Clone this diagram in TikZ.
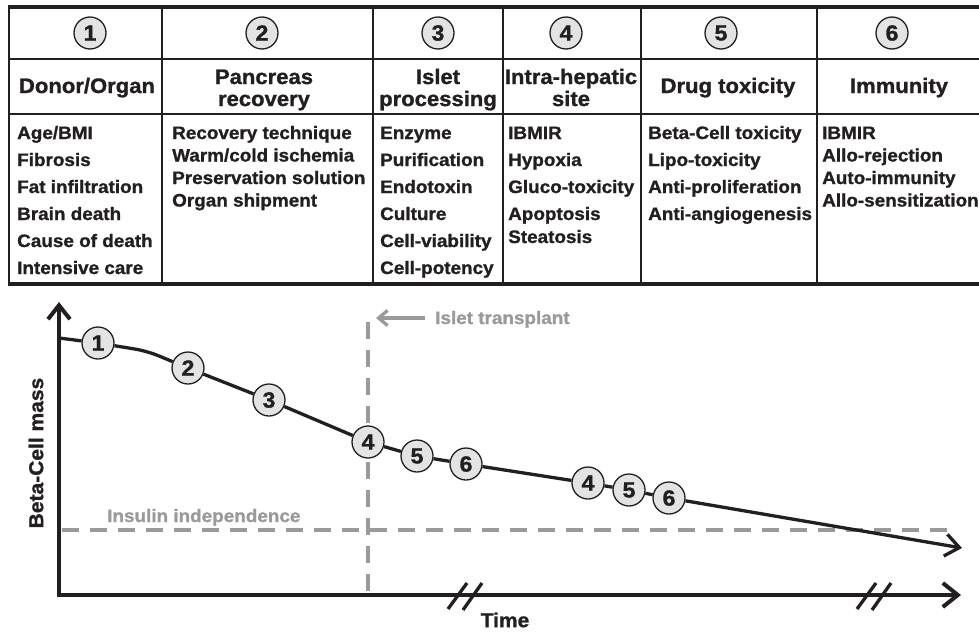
\documentclass[tikz,border=0pt]{standalone}
\usepackage{fontspec}
\setmainfont{Liberation Sans}[FakeStretch=1.05, BoldFeatures={FakeBold=1.2}]
\usetikzlibrary{arrows.meta}
\definecolor{ink}{HTML}{231F20}
\definecolor{lgray}{HTML}{9A9A9C}
\definecolor{cfill}{HTML}{E3E3E3}
\tikzset{
  body/.style={anchor=base west, inner sep=0pt, font=\fontsize{18}{20}\selectfont\bfseries, text=ink},
  head/.style={anchor=base, inner sep=0pt, font=\fontsize{21}{23}\selectfont\bfseries, text=ink},
  num/.style={circle, draw=ink, line width=1.3pt, fill=cfill, minimum size=32pt, inner sep=0pt, font=\fontsize{22}{22}\selectfont\bfseries, text=ink},
  outerrule/.style={line width=4pt, draw=ink},
  innerrule/.style={line width=2pt, draw=ink},
  axisline/.style={line width=4pt, draw=ink, line join=miter},
  dashgray/.style={line width=4pt, draw=lgray, dash pattern=on 17pt off 11pt},
  curveline/.style={line width=3.3pt, draw=ink},
  graylabel/.style={anchor=base west, inner sep=0pt, font=\fontsize{18}{20}\selectfont\bfseries, text=lgray},
  axislabel/.style={inner sep=0pt, font=\fontsize{20}{22}\selectfont\bfseries, text=ink},
  breakline/.style={line width=3.3pt, draw=ink},
}
\begin{document}
\begin{tikzpicture}[x=1pt,y=-1pt]
\useasboundingbox (0,0) rectangle (979,632);
% ---------------- table ----------------
\draw[outerrule] (9,7) -- (979,7);
\draw[outerrule] (9,284) -- (979,284);
\draw[innerrule] (9,59) -- (979,59);
\draw[innerrule] (9,114) -- (979,114);
\draw[line width=2.6pt, draw=ink] (9,5) -- (9,286);
\foreach \x in {162,373,503,641,817} \draw[innerrule] (\x,7) -- (\x,284);
% header circles
\node[num] (n1) at (90,33) {1};
\node[num] (n2) at (262,33) {2};
\node[num] (n3) at (438,33) {3};
\node[num] (n4) at (566,33) {4};
\node[num] (n5) at (721,33) {5};
\node[num] (n6) at (892,33) {6};
% headers
\node[head] (h1) at (87,93) {Donor/Organ};
\node[head] (h2a) at (264,84) {Pancreas};
\node[head] (h2b) at (264,106) {recovery};
\node[head] (h3a) at (438,84) {Islet};
\node[head] (h3b) at (438,106) {processing};
\node[head] (h4a) at (571,84) {Intra-hepatic};
\node[head] (h4b) at (571,106) {site};
\node[head] (h5) at (728,93) {Drug toxicity};
\node[head] (h6) at (899,93) {Immunity};
% body
\foreach \t [count=\i] in {Age/BMI,Fibrosis,Fat infiltration,Brain death,Cause of death,Intensive care}
  \node[body] (ca\i) at (17,{139+27*(\i-1)}) {\t};
\foreach \t [count=\i] in {Recovery technique,Warm/cold ischemia,Preservation solution,Organ shipment}
  \node[body] (cb\i) at (172,{139+22.5*(\i-1)}) {\t};
\foreach \t [count=\i] in {Enzyme,Purification,Endotoxin,Culture,Cell-viability,Cell-potency}
  \node[body] (cc\i) at (380,{139+27*(\i-1)}) {\t};
\foreach \t [count=\i] in {IBMIR,Hypoxia,Gluco-toxicity,Apoptosis}
  \node[body] (cd\i) at (508,{139+27*(\i-1)}) {\t};
\node[body] (cd5) at (508,243) {Steatosis};
\foreach \t [count=\i] in {Beta-Cell toxicity,Lipo-toxicity,Anti-proliferation,Anti-angiogenesis}
  \node[body] (ce\i) at (648,{139+27*(\i-1)}) {\t};
\foreach \t [count=\i] in {IBMIR,Allo-rejection,Auto-immunity,Allo-sensitization}
  \node[body] (cf\i) at (822,{139+22.5*(\i-1)}) {\t};
% ---------------- graph ----------------
\coordinate (o) at (59,595);
\coordinate (ytop) at (59,302);
\coordinate (xend) at (961,595);
\coordinate (d1) at (62,530);
\coordinate (d2) at (952,530);
\coordinate (v1) at (368,322);
\coordinate (v2) at (368,595);
\coordinate (ta) at (425,318);
\coordinate (tb) at (376,318);
% dashed guides
\draw[dashgray] (d1) -- (d2);
\draw[dashgray] (v1) -- (v2);
\draw[line width=3.3pt, draw=lgray, -{Straight Barb[length=9pt,width=15pt]}] (ta) -- (tb);
\node[graylabel] (itx) at (435,324) {Islet transplant};
\node[graylabel] (iix) at (107,522) {Insulin independence};
% axes
\draw[axisline, {Straight Barb[length=14pt,width=22pt]}-{Straight Barb[length=15pt,width=24pt]}] (ytop) -- (o) -- (xend);
% axis breaks
\coordinate (k1a) at (448,609); \coordinate (k1b) at (467,583);
\coordinate (k2a) at (463,610); \coordinate (k2b) at (482,583);
\coordinate (k3a) at (857,609); \coordinate (k3b) at (876,583);
\coordinate (k4a) at (872,610); \coordinate (k4b) at (891,583);
\draw[breakline] (k1a) -- (k1b);
\draw[breakline] (k2a) -- (k2b);
\draw[breakline] (k3a) -- (k3b);
\draw[breakline] (k4a) -- (k4b);
\node[axislabel] (tl) at (505,620) {Time};
\node[axislabel, rotate=90] (yl) at (36,453) {Beta-Cell mass};
% curve nodes
\node[num] (g1) at (98,343) {1};
\node[num] (g2) at (188,368) {2};
\node[num] (g3) at (269,400) {3};
\node[num] (g4) at (368,442) {4};
\node[num] (g5) at (417,456) {5};
\node[num] (g6) at (466,464) {6};
\node[num] (k4) at (588,483) {4};
\node[num] (k5) at (629,490) {5};
\node[num] (k6) at (669,498) {6};
\coordinate (s) at (59,338);
\coordinate (b1) at (147,351);
\coordinate (e) at (962,548);
\draw[curveline] (s) -- (g1);
\draw[curveline, rounded corners=12pt] (g1) -- (b1) -- (g2);
\draw[curveline] (g2) -- (g3);
\draw[curveline] (g3) -- (g4);
\draw[curveline] (g4) -- (g5);
\draw[curveline] (g5) -- (g6);
\draw[curveline] (g6) -- (k4);
\draw[curveline] (k4) -- (k5);
\draw[curveline] (k5) -- (k6);
\draw[curveline, -{Straight Barb[length=14pt,width=22pt]}] (k6) -- (e);
\end{tikzpicture}
\end{document}
